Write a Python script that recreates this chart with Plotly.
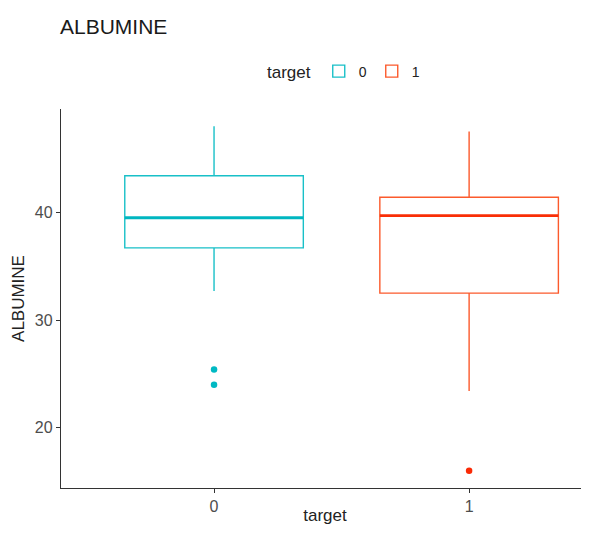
import plotly.graph_objects as go

# ---- data ----
categories = ["0", "1"]
q1_vals = [36.7, 32.5]
median_vals = [39.5, 39.7]
q3_vals = [43.4, 41.4]
lower_whisker = [32.7, 23.4]
upper_whisker = [48.0, 47.5]
outliers = [[25.4, 24.0], [16.0]]
y_tick_vals = [20, 30, 40]
y_tick_text = ["20", "30", "40"]

# ---- styles ----
box_colors = ["#19C0C8", "#FC5A2C"]
median_colors = ["#00B6C0", "#F92E06"]
point_colors = ["#00B9C3", "#FA2A05"]
BOX_WIDTH = 0.7
FONT = "Liberation Sans, Arial, sans-serif"
OFF = 8  # page body margin offset
W, H = 589 - OFF, 533 - 2 * OFF

fig = go.Figure()
for i, cat in enumerate(categories):
    xpos = i
    fig.add_trace(go.Box(
        x=[xpos], q1=[q1_vals[i]], median=[median_vals[i]], q3=[q3_vals[i]],
        lowerfence=[lower_whisker[i]], upperfence=[upper_whisker[i]],
        name=cat, legendgroup=cat, width=BOX_WIDTH, whiskerwidth=0,
        line=dict(color=box_colors[i], width=1.4),
        fillcolor="rgba(255,255,255,0)", boxpoints=False, hoverinfo="skip",
    ))
    # thicker median line, as in ggplot
    fig.add_trace(go.Scatter(
        x=[xpos - BOX_WIDTH / 2, xpos + BOX_WIDTH / 2],
        y=[median_vals[i], median_vals[i]],
        mode="lines", line=dict(color=median_colors[i], width=2.8),
        showlegend=False, legendgroup=cat, hoverinfo="skip",
    ))
    fig.add_trace(go.Scatter(
        x=[xpos] * len(outliers[i]), y=outliers[i], mode="markers",
        marker=dict(color=point_colors[i], size=6.5),
        showlegend=False, legendgroup=cat, hoverinfo="skip",
    ))

fig.update_layout(
    width=W, height=H,
    margin=dict(l=61 - OFF, r=0, t=109 - OFF, b=H - (488 - OFF), autoexpand=False),
    plot_bgcolor="white", paper_bgcolor="white",
    font=dict(family=FONT, color="#222222"),
    title=dict(text="ALBUMINE", x=52 / W, xref="container", xanchor="left",
               y=1 - 19 / H, yref="container", yanchor="middle",
               font=dict(size=21, color="#1a1a1a", family=FONT)),
    showlegend=True,
    legend=dict(orientation="h", x=257 / W, xref="container", xanchor="left",
                y=1 - 64 / H, yref="container", yanchor="middle",
                title=dict(text="target", font=dict(size=17, color="#222222")),
                font=dict(size=14, color="#222222"),
                bgcolor="rgba(0,0,0,0)", itemwidth=30, tracegroupgap=0),
    xaxis=dict(range=[-0.6, 1.47], tickmode="array", tickvals=[0, 1],
               ticktext=categories, showgrid=False, zeroline=False,
               showline=True, linecolor="#333333", linewidth=1.3,
               ticks="outside", ticklen=4, tickcolor="#333333",
               tickfont=dict(size=16, color="#4d4d4d"), automargin=False,
               title=dict(text="target", font=dict(size=17, color="#222222"), standoff=8)),
    yaxis=dict(range=[14.4, 49.6], tickmode="array", tickvals=y_tick_vals,
               ticktext=y_tick_text, showgrid=False, zeroline=False,
               showline=True, linecolor="#333333", linewidth=1.3,
               ticks="outside", ticklen=4, tickcolor="#333333",
               tickfont=dict(size=16, color="#4d4d4d"), automargin=False,
               title=dict(text="ALBUMINE", font=dict(size=17, color="#222222"), standoff=5)),
)

fig.write_html("out.html")
